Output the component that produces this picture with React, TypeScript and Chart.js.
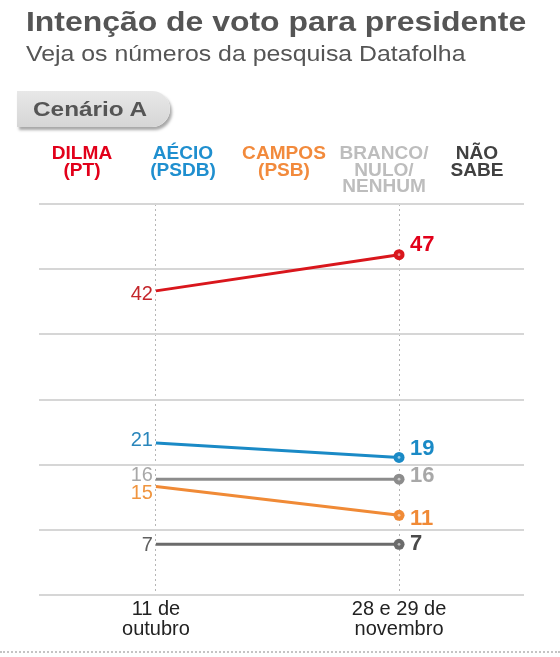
import React, { useEffect, useRef } from "react";
import { Chart, registerables } from "chart.js";

Chart.register(...registerables);

const title = "Intenção de voto para presidente";
const subtitle = "Veja os números da pesquisa Datafolha";
const tabLabel = "Cenário A";

const xLabels: string[][] = [
  ["11 de", "outubro"],
  ["28 e 29 de", "novembro"],
];

const seriesNames: string[][] = [
  ["DILMA", "(PT)"],
  ["AÉCIO", "(PSDB)"],
  ["CAMPOS", "(PSB)"],
  ["BRANCO/", "NULO/", "NENHUM"],
  ["NÃO", "SABE"],
];

const dilma = [42, 47];
const aecio = [21, 19];
const campos = [15, 11];
const branco = [16, 16];
const naoSabe = [7, 7];

const yMin = 0;
const yMax = 54;
const yStep = 9;

// styles (colours, label nudges)
const styles = [
  { line: "#d9161c", legend: "#e2001a", left: "#c4262b", right: "#e2001a", dyL: 4, dyR: -10 },
  { line: "#1a8ac6", legend: "#1f8fcf", left: "#2a86bb", right: "#1a8ac6", dyL: -2, dyR: -8 },
  { line: "#f08a36", legend: "#f28a3c", left: "#f0953f", right: "#f08a36", dyL: 7, dyR: 4 },
  { line: "#8c8c8c", legend: "#bdbdbd", left: "#a8a8a8", right: "#a8a8a8", dyL: -4, dyR: -3 },
  { line: "#6b6b6b", legend: "#404040", left: "#606060", right: "#4a4a4a", dyL: 1, dyR: 0 },
];
const legendCenters = [82, 183, 284, 384, 477];
const seriesValues = [dilma, aecio, campos, branco, naoSabe];

const FONT = "'Liberation Sans', Arial, Helvetica, sans-serif";

const labelPlugin = {
  id: "endLabels",
  afterDatasetsDraw(chart: any) {
    const ctx = chart.ctx;
    ctx.save();
    chart.data.datasets.forEach((ds: any, i: number) => {
      const meta = chart.getDatasetMeta(i);
      const st = styles[i];
      const p0 = meta.data[0];
      const p1 = meta.data[1];
      ctx.fillStyle = "rgba(255,255,255,0.55)";
      ctx.beginPath();
      ctx.arc(p1.x, p1.y, 1.4, 0, Math.PI * 2);
      ctx.fill();
      ctx.textBaseline = "middle";
      ctx.font = `normal 20px ${FONT}`;
      ctx.fillStyle = st.left;
      ctx.textAlign = "right";
      ctx.fillText(String(ds.data[0].y), p0.x - 3, p0.y + st.dyL);
      ctx.font = `bold 22px ${FONT}`;
      ctx.fillStyle = st.right;
      ctx.textAlign = "left";
      ctx.fillText(String(ds.data[1].y), p1.x + 11, p1.y + st.dyR);
    });
    ctx.restore();
  },
};

function ChartCanvas() {
  const ref = useRef<HTMLCanvasElement | null>(null);
  useEffect(() => {
    if (!ref.current) return;
    const datasets = seriesValues.map((vals, i) => ({
      label: seriesNames[i].join(" "),
      data: vals.map((v, j) => ({ x: j, y: v })),
      borderColor: styles[i].line,
      backgroundColor: styles[i].line,
      borderWidth: 3,
      pointRadius: [0, 5.5],
      pointBackgroundColor: styles[i].line,
      pointBorderWidth: 0,
      pointHoverRadius: 0,
      clip: false as any,
    }));
    const chart = new Chart(ref.current, {
      type: "line",
      data: { datasets },
      options: {
        animation: false,
        responsive: false,
        devicePixelRatio: 1,
        events: [],
        layout: { padding: { left: 39, right: 36, top: 204, bottom: 0 } },
        plugins: { legend: { display: false }, tooltip: { enabled: false } },
        scales: {
          x: {
            type: "linear",
            min: -0.481,
            max: 1.514,
            afterBuildTicks: (s: any) => {
              s.ticks = xLabels.map((_, i) => ({ value: i }));
            },
            afterFit: (s: any) => {
              s.height = 62;
            },
            ticks: {
              autoSkip: false,
              maxRotation: 0,
              padding: 5,
              color: "#222",
              font: { family: FONT, size: 20, lineHeight: 0.98 },
              callback: (v: any) => xLabels[v] as any,
            },
            grid: { color: "#b5b5b5", lineWidth: 1, drawTicks: false },
            border: { display: false, dash: [2, 3] },
          },
          y: {
            min: yMin,
            max: yMax,
            afterFit: (s: any) => {
              s.width = 0;
            },
            ticks: { stepSize: yStep, display: false },
            grid: { color: "#d6d6d6", lineWidth: 2, drawTicks: false },
            border: { display: false },
          },
        },
      },
      plugins: [labelPlugin],
    });
    return () => chart.destroy();
  }, []);
  return (
    <canvas
      ref={ref}
      width={560}
      height={657}
      style={{ position: "absolute", left: 0, top: 0, width: 560, height: 657 }}
    />
  );
}

const stretch = (k: number): React.CSSProperties => ({
  transform: `scaleX(${k})`,
  transformOrigin: "left center",
});

export default function App() {
  useEffect(() => {
    document.body.style.margin = "0";
  }, []);
  return (
    <div style={{ position: "relative", width: 560, height: 657, background: "#fff", fontFamily: FONT, overflow: "hidden" }}>
      <ChartCanvas />
      <div style={{ position: "absolute", left: 26, top: 7, fontSize: 28, fontWeight: "bold", color: "#555", whiteSpace: "nowrap", lineHeight: "30px", ...stretch(1.14) }}>
        {title}
      </div>
      <div style={{ position: "absolute", left: 26, top: 42, fontSize: 22, color: "#555", whiteSpace: "nowrap", lineHeight: "24px", ...stretch(1.13) }}>
        {subtitle}
      </div>
      <div
        style={{
          position: "absolute",
          left: 17,
          top: 91,
          width: 153,
          height: 36,
          background: "linear-gradient(#e8e8e8, #d6d6d6)",
          borderRadius: "0 18px 18px 0",
          boxShadow: "2px 3px 3px rgba(0,0,0,0.35)",
        }}
      />
      <div style={{ position: "absolute", left: 33, top: 96, fontSize: 21, fontWeight: "bold", color: "#555", whiteSpace: "nowrap", lineHeight: "26px", ...stretch(1.16) }}>
        {tabLabel}
      </div>
      {seriesNames.map((lines, i) => (
        <div
          key={i}
          style={{
            position: "absolute",
            left: legendCenters[i] - 60,
            width: 120,
            top: 145,
            textAlign: "center",
            fontSize: 18,
            fontWeight: "bold",
            lineHeight: "16.5px",
            color: styles[i].legend,
            transform: "scaleX(1.06)",
            transformOrigin: "center center",
          }}
        >
          {lines.map((l, k) => (
            <div key={k}>{l}</div>
          ))}
        </div>
      ))}
      <div style={{ position: "absolute", left: 0, right: 0, top: 651, borderTop: "2px dotted #c4c4c4" }} />
    </div>
  );
}
